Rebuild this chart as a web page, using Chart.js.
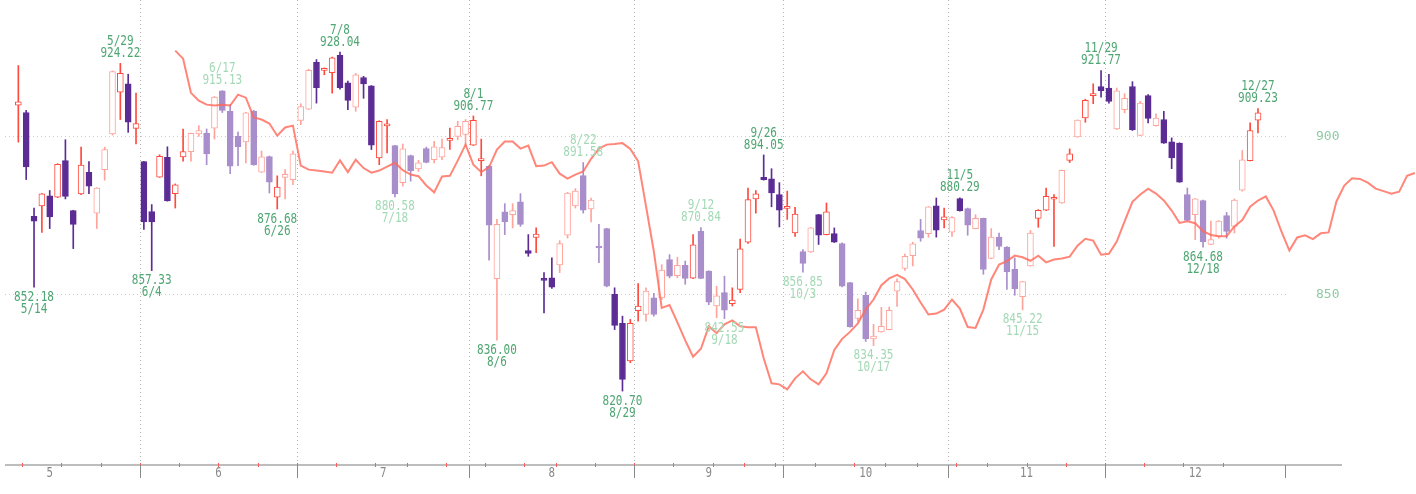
<!DOCTYPE html>
<html>
<head>
<meta charset="utf-8">
<script src="https://cdn.jsdelivr.net/npm/chart.js@4/dist/chart.umd.min.js"></script>
<style>
  html, body { margin: 0; padding: 0; background: #fff; }
  #chart { display: block; }
</style>
</head>
<body>
<canvas id="chart" width="1416" height="494"></canvas>
<script>
// trading days per month (2019)
const year = 2019;
const months = [5, 6, 7, 8, 9, 10, 11, 12];
const mayDays = [10,13,14,15,16,17,20,21,22,23,24,27,28,29,30,31];
const junDays = [3,4,5,6,7,10,11,12,13,14,17,18,19,20,21,24,25,26,27,28];
const julDays = [1,2,3,4,5,8,9,10,11,12,16,17,18,19,22,23,24,25,26,29,30,31];
const augDays = [1,2,5,6,7,8,9,13,14,15,16,19,20,21,22,23,26,27,28,29,30];
const sepDays = [2,3,4,5,6,9,10,11,12,13,17,18,19,20,24,25,26,27,30];
const octDays = [1,2,3,4,7,8,9,10,11,15,16,17,18,21,23,24,25,28,29,30,31];
const novDays = [1,5,6,7,8,11,12,13,14,15,18,19,20,21,22,25,26,27,28,29];
const decDays = [2,3,4,5,6,9,10,11,12,13,16,17,18,19,20,23,24,25,26,27];

// daily prices
const open = [
  910.3,907.9,874.4,877.7,880.9,880.5,892.2,876.2,881.5,888.4,875.4,889.3,900.9,914.6,917.4,902.7,
  891.9,875.9,886.9,893.3,881.6,893.4,895.1,900.9,901.1,902.8,915.1,908.3,900.1,898.3,908.3,888.5,893.5,880.5,886.8,886.1,
  905.3,909.0,924.6,921.9,921.1,926.9,917.7,909.7,919.5,916.7,893.1,903.5,897.1,885.1,893.8,889.5,896.1,892.5,893.3,898.8,900.1,900.7,
  897.2,892.2,890.4,854.8,875.8,874.9,879.0,863.6,867.7,854.6,855.1,859.1,868.4,877.7,887.4,876.7,864.9,870.5,850.0,841.1,829.7,
  845.0,843.8,848.9,848.9,860.8,855.8,859.0,855.0,869.6,857.2,846.4,850.5,847.1,851.5,866.2,879.9,886.8,886.3,881.3,
  876.9,869.1,863.3,863.2,874.9,868.6,868.9,865.8,853.6,842.6,849.7,836.4,838.5,839.2,851.0,858.0,862.0,869.9,868.9,877.7,873.2,
  869.4,880.0,876.8,870.5,873.7,861.1,867.8,864.7,857.7,849.3,858.8,873.7,876.3,879.8,878.6,892.3,899.9,906.1,913.5,916.5,
  916.0,902.5,908.8,916.5,900.4,913.5,903.6,905.6,898.3,897.9,881.3,874.9,879.4,865.5,868.0,874.6,871.2,882.7,892.2,905.4
];
const high = [
  923.5,908.6,877.0,881.6,882.6,891.2,899.0,876.3,896.6,891.9,883.5,896.6,921.7,924.22,920.6,914.3,
  892.0,878.1,894.1,896.7,884.7,902.5,901.2,903.6,902.5,913.2,915.13,910.5,901.5,908.0,908.6,895.3,893.7,887.3,889.3,895.3,
  910.8,922.3,925.5,922.7,926.3,928.04,918.3,920.9,919.9,916.8,905.2,905.6,897.2,897.6,894.0,892.3,896.6,898.5,899.2,902.8,905.0,905.6,
  906.77,899.2,890.6,873.4,878.4,878.4,881.6,868.6,870.7,856.7,861.3,866.7,882.0,883.2,891.58,880.2,871.8,870.6,852.0,843.3,842.3,
  853.3,852.0,850.3,859.2,862.3,861.5,860.3,868.6,870.84,857.3,852.5,855.6,852.0,867.2,883.4,882.6,894.05,889.6,885.1,
  882.4,877.2,863.9,870.8,875.0,878.6,870.7,866.0,853.7,848.6,850.7,840.8,846.0,846.1,854.8,862.5,866.2,873.4,877.5,880.2,877.0,
  874.3,880.29,877.0,874.9,873.8,870.5,869.1,864.8,861.3,854.0,869.9,876.5,883.4,881.3,889.2,896.0,905.5,912.3,917.4,921.77,
  920.6,916.0,914.1,918.1,911.6,913.8,907.5,908.3,899.6,898.0,883.4,880.0,879.5,872.9,873.0,875.6,879.9,895.5,904.5,909.23
];
const low = [
  898.2,886.1,852.18,869.3,870.5,880.3,879.9,864.2,881.3,881.6,870.5,885.9,900.5,905.6,901.4,897.6,
  870.2,857.33,886.8,879.2,877.0,892.0,892.0,900.1,890.9,899.2,907.9,888.0,890.6,891.5,890.7,888.4,881.8,876.68,879.9,884.5,
  903.9,908.9,911.0,920.4,914.3,915.6,908.8,908.3,912.6,895.8,890.9,894.7,880.58,884.0,885.6,888.7,891.5,891.5,892.5,895.8,899.0,896.9,
  897.1,887.3,860.6,836.00,868.6,870.7,871.2,861.8,862.9,844.3,851.8,856.7,867.5,877.0,875.4,872.6,859.8,852.3,839.2,820.70,829.2,
  841.8,841.8,843.3,848.4,855.1,855.1,853.1,854.8,854.8,846.8,842.8,842.55,846.4,850.5,865.8,875.4,885.9,877.4,871.0,
  873.4,868.0,856.85,863.0,865.5,868.5,866.1,852.3,839.9,841.8,835.6,834.35,838.4,839.1,846.3,857.4,858.8,866.5,867.8,867.8,870.7,
  868.0,876.0,868.4,870.4,856.2,861.0,863.9,851.5,849.7,845.22,858.7,870.9,876.2,864.9,878.5,891.6,899.8,904.7,910.8,913.0,
  911.0,902.3,907.8,902.0,900.3,904.5,903.4,897.8,889.6,885.2,873.0,867.0,864.68,865.4,867.5,867.5,869.1,882.4,892.1,901.2
];
const close = [
  911.4,890.2,872.8,881.5,874.2,891.0,880.7,871.8,890.8,884.0,883.4,895.8,921.5,920.9,904.7,904.3,
  872.6,872.6,893.6,879.3,884.4,895.1,901.1,902.0,894.4,913.0,908.6,890.4,896.7,907.8,890.9,893.4,885.3,883.7,887.8,894.4,
  909.9,921.9,916.1,922.3,926.1,916.1,911.9,920.4,917.4,897.2,905.0,903.7,881.5,896.0,889.0,891.5,891.6,896.7,896.4,899.3,903.4,905.0,
  905.3,892.5,871.6,871.8,872.6,876.2,871.8,862.7,868.8,854.3,852.2,865.8,881.8,882.4,876.3,879.5,864.4,852.5,840.5,824.2,841.1,
  846.4,851.0,843.8,857.5,855.6,859.0,854.9,865.4,854.9,847.6,849.5,845.1,848.2,864.1,879.7,881.5,886.1,881.8,876.3,
  877.1,875.1,859.6,870.7,868.4,875.8,866.2,852.5,840.0,845.1,836.4,837.2,840.2,845.1,853.9,861.8,865.7,867.5,877.4,870.0,874.2,
  874.0,876.2,871.6,873.7,857.7,867.8,864.9,856.9,851.7,853.9,869.1,876.3,880.7,880.0,889.1,894.4,905.4,911.9,913.7,915.1,
  911.6,915.1,912.6,902.3,911.0,906.0,906.1,897.9,893.1,885.3,873.1,879.9,866.4,867.0,872.9,869.6,879.5,892.5,902.0,907.8
];

// comparison line, starts at trading day 20 and runs past the last candle
const lineStart = 20;
const lineValues = [
  928.5,925.8,914.4,911.8,910.5,910.2,910.5,910.2,913.8,912.8,906.3,905.6,904.3,900.3,903.0,903.6,
  890.6,889.3,889.0,888.7,888.3,892.3,888.5,892.5,889.8,888.3,889.0,890.3,891.5,889.1,887.7,887.2,884.2,882.0,887.1,887.3,892.2,897.4,
  890.9,888.5,890.1,895.8,898.4,898.4,896.1,897.1,890.4,890.6,891.7,888.0,886.4,887.7,888.7,892.8,896.1,897.4,897.6,897.9,896.0,
  892.0,877.6,863.3,845.8,846.7,841.4,835.9,831.0,833.4,840.2,838.1,840.8,842.0,840.2,839.9,839.9,830.5,823.0,822.7,
  821.2,824.5,826.6,824.2,822.7,826.0,833.0,836.4,838.5,841.1,845.3,848.4,852.8,854.9,856.0,854.7,851.5,847.5,843.8,844.1,845.3,
  848.4,845.6,840.0,839.7,845.3,854.6,859.2,860.3,862.0,861.5,860.4,862.0,859.9,860.8,861.1,861.7,865.1,867.3,866.7,862.3,
  862.6,866.4,872.8,879.0,881.3,883.2,881.6,879.4,876.2,872.3,872.8,872.2,869.7,868.5,868.1,868.1,871.2,873.2,877.4,879.4,
  880.7,876.2,869.5,863.6,867.7,868.4,867.2,869.0,869.3,879.1,884.2,886.5,886.3,885.1,883.2,882.4,881.6,882.2,887.3,888.2
];

// high / low marks
const markDates = ['5/14','5/29','6/4','6/17','6/26','7/8','7/18','8/1','8/6','8/22','8/29',
  '9/12','9/18','9/26','10/3','10/17','11/5','11/15','11/29','12/18','12/27'];
const markValues = [852.18,924.22,857.33,915.13,876.68,928.04,880.58,906.77,836.00,891.58,820.70,
  870.84,842.55,894.05,856.85,834.35,880.29,845.22,921.77,864.68,909.23];
const markSides = ['low','high','low','high','low','high','low','high','low','high','low',
  'high','low','high','low','low','high','low','high','low','high'];
const paleMarks = ['6/17','7/18','8/22','9/12','9/18','10/3','10/17','11/15'];

const monthLabels = ['5','6','7','8','9','10','11','12'];
const yTicks = [850, 900];

// candles drawn in the paler shade
const fadedCandles = [10,11,12,22,23,24,25,26,27,28,29,30,31,32,34,35,36,37,43,48,49,50,51,52,53,54,56,57,
  60,61,62,63,64,69,70,71,72,73,74,75,80,81,82,83,84,85,87,88,89,90,100,101,105,106,107,108,109,110,111,112,
  113,114,115,116,119,121,122,123,124,125,126,127,128,129,133,135,140,141,143,145,149,150,151,152,153,154,155,156];

// x range in trading-day units, month span used for the labels
const xMin = -1.7, xMax = 161.7;
const monthSpanStart = -7.5, monthSpanEnd = 161.5;

const RED = '#ff4a3d', RED_LIGHT = '#ffa49b';
const PURPLE = '#5c2c95', PURPLE_LIGHT = '#a88ecb';
const TEXT_DARK = '#4fa673', TEXT_LIGHT = '#a4d9b6';

const monthDays = [mayDays, junDays, julDays, augDays, sepDays, octDays, novDays, decDays];
const dates = [];
const dayNums = [];
const monthOf = [];
months.forEach((m, k) => {
  monthDays[k].forEach(d => {
    dates.push(m + '/' + d);
    dayNums.push(Date.UTC(year, m - 1, d) / 864e5);
    monthOf.push(m);
  });
});

const faded = new Set(fadedCandles);
const isUp = i => close[i] >= open[i];
const colorOf = i => isUp(i) ? (faded.has(i) ? RED_LIGHT : RED) : (faded.has(i) ? PURPLE_LIGHT : PURPLE);

const bodies = dates.map((d, i) => ({ x: i, y: [open[i], close[i]] }));
const wicks = dates.map((d, i) => ({ x: i, y: [low[i], high[i]] }));
const lineData = lineValues.map((v, k) => ({ x: lineStart + k, y: v }));

// month edges and week edges, in index units
const monthEdges = [];
const weekEdges = [];
for (let i = 1; i < dates.length; i++) {
  if (monthOf[i] !== monthOf[i - 1]) monthEdges.push(i - 0.5);
  if (Math.floor((dayNums[i] + 3) / 7) !== Math.floor((dayNums[i - 1] + 3) / 7)) weekEdges.push(i - 0.5);
}

function squashText(ctx, text, x, y, sx, sy) {
  ctx.save();
  ctx.translate(x, y);
  ctx.scale(sx, sy);
  ctx.fillText(text, 0, 0);
  ctx.restore();
}

const monthAxis = {
  id: 'monthAxis',
  beforeDatasetsDraw(chart) {
    const { ctx, chartArea, scales: { x } } = chart;
    ctx.save();
    ctx.strokeStyle = '#b3b3b3';
    ctx.lineWidth = 1;
    ctx.setLineDash([1, 3]);
    monthEdges.forEach(e => {
      const px = Math.round(x.getPixelForValue(e)) + 0.5;
      ctx.beginPath();
      ctx.moveTo(px, chartArea.top);
      ctx.lineTo(px, chartArea.bottom);
      ctx.stroke();
    });
    ctx.restore();
  },
  afterDraw(chart) {
    const { ctx, chartArea, scales: { x } } = chart;
    const yb = chartArea.bottom;
    ctx.save();
    // axis line
    ctx.strokeStyle = '#bdbdbd';
    ctx.lineWidth = 2;
    ctx.beginPath();
    ctx.moveTo(chartArea.left, yb);
    ctx.lineTo(chartArea.right + 55, yb);
    ctx.stroke();
    // week marks
    ctx.strokeStyle = '#ff5a5a';
    ctx.lineWidth = 1;
    weekEdges.forEach(e => {
      const px = Math.round(x.getPixelForValue(e)) + 0.5;
      ctx.beginPath();
      ctx.moveTo(px, yb - 2);
      ctx.lineTo(px, yb + 2);
      ctx.stroke();
    });
    // month dividers
    ctx.strokeStyle = '#8a8a8a';
    monthEdges.concat([monthSpanEnd]).forEach(e => {
      const px = Math.round(x.getPixelForValue(e)) + 0.5;
      ctx.beginPath();
      ctx.moveTo(px, yb);
      ctx.lineTo(px, yb + 13);
      ctx.stroke();
    });
    // month labels
    const spans = [monthSpanStart].concat(monthEdges, [monthSpanEnd]);
    ctx.fillStyle = '#8a8a8a';
    ctx.font = '12px "DejaVu Sans Mono"';
    ctx.textAlign = 'center';
    ctx.textBaseline = 'middle';
    monthLabels.forEach((lab, k) => {
      const px = x.getPixelForValue((spans[k] + spans[k + 1]) / 2);
      squashText(ctx, lab, px, yb + 8, 0.9, 1.15);
    });
    ctx.restore();
  },
  afterDatasetsDraw(chart) {
    const { ctx, scales: { x, y } } = chart;
    ctx.save();
    ctx.font = '12px "DejaVu Sans Mono"';
    ctx.textAlign = 'center';
    ctx.textBaseline = 'middle';
    markDates.forEach((d, k) => {
      const i = dates.indexOf(d);
      const px = x.getPixelForValue(i);
      const py = y.getPixelForValue(markValues[k]);
      ctx.fillStyle = paleMarks.includes(d) ? TEXT_LIGHT : TEXT_DARK;
      const val = markValues[k].toFixed(2);
      if (markSides[k] === 'high') {
        squashText(ctx, val, px, py - 10, 0.92, 1.15);
        squashText(ctx, d, px, py - 22, 0.92, 1.15);
      } else {
        squashText(ctx, val, px, py + 10, 0.92, 1.15);
        squashText(ctx, d, px, py + 22, 0.92, 1.15);
      }
    });
    ctx.restore();
  }
};

new Chart(document.getElementById('chart'), {
  type: 'bar',
  data: {
    datasets: [
      {
        type: 'line',
        label: 'line',
        data: lineData,
        borderColor: 'rgba(255, 104, 88, 0.8)',
        borderWidth: 2,
        pointRadius: 0,
        tension: 0,
        clip: false,
        order: 1
      },
      {
        label: 'body',
        data: bodies,
        backgroundColor: dates.map((d, i) => isUp(i) ? '#ffffff' : colorOf(i)),
        borderColor: dates.map((d, i) => colorOf(i)),
        borderWidth: 1,
        borderSkipped: false,
        barThickness: 6,
        minBarLength: 2,
        grouped: false,
        order: 2
      },
      {
        label: 'wick',
        data: wicks,
        backgroundColor: dates.map((d, i) => colorOf(i)),
        borderWidth: 0,
        barThickness: 1,
        grouped: false,
        order: 3
      }
    ]
  },
  options: {
    animation: false,
    responsive: false,
    events: [],
    layout: { padding: { left: 5, right: 0, top: 0, bottom: 29 } },
    plugins: { legend: { display: false }, tooltip: { enabled: false } },
    scales: {
      x: {
        type: 'linear',
        display: false,
        offset: false,
        bounds: 'data',
        afterDataLimits: s => { s.min = xMin; s.max = xMax; }
      },
      y: {
        type: 'logarithmic',
        position: 'right',
        min: 799,
        max: 945.7,
        bounds: 'data',
        afterBuildTicks: s => { s.ticks = yTicks.map(v => ({ value: v })); },
        afterFit: s => { s.width = 129; s.paddingTop = 0; s.paddingBottom = 0; },
        grid: { color: '#ade0bf', lineWidth: 1, drawTicks: false },
        border: { display: false, dash: [1, 3] },
        ticks: {
          padding: 29,
          color: '#8fcaa3',
          font: { family: 'DejaVu Sans Mono', size: 13 },
          callback: v => String(v)
        }
      }
    }
  },
  plugins: [monthAxis]
});
</script>
</body>
</html>
